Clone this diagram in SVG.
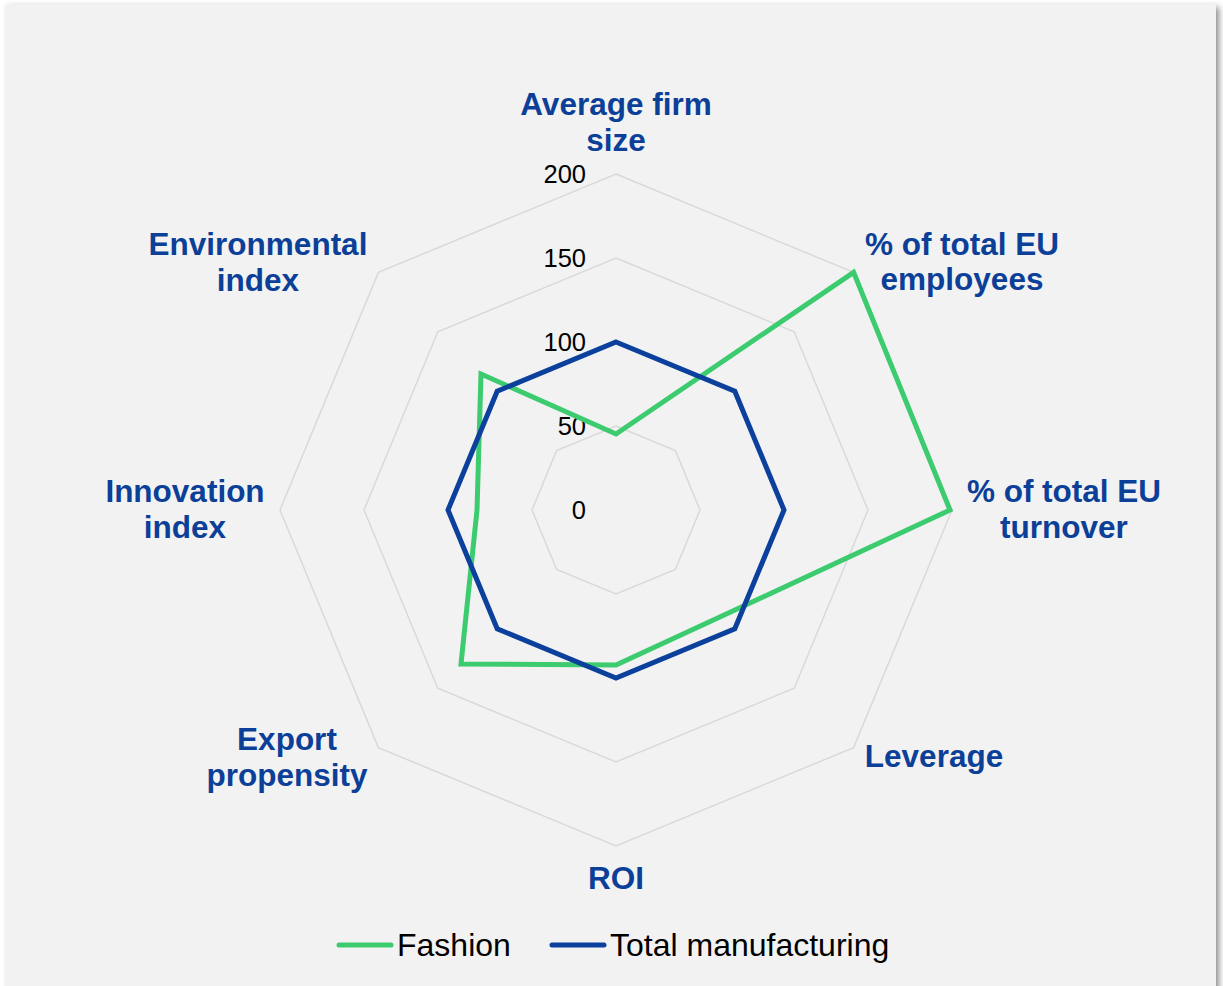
<svg xmlns="http://www.w3.org/2000/svg" width="1223" height="986" viewBox="0 0 1223 986">
  <defs>
    <filter id="shadow" x="-5%" y="-5%" width="110%" height="110%">
      <feGaussianBlur stdDeviation="3"/>
    </filter>
  </defs>
  <style>
    .grid { fill: none; stroke: #d9d9d9; stroke-width: 1.5; }
    .series { fill: none; stroke-width: 5; stroke-linejoin: miter; }
    .fashion { stroke: #3ccb6e; }
    .total { stroke: #0b409c; }
    .tick { font-family: "Liberation Sans", Arial, sans-serif; font-size: 25.5px; fill: #000; text-anchor: end; }
    .axis { font-family: "Liberation Sans", Arial, sans-serif; font-size: 31.5px; font-weight: bold; fill: #0b3f98; text-anchor: middle; }
    .legend { font-family: "Liberation Sans", Arial, sans-serif; font-size: 32px; fill: #000; }
    .legline { stroke-width: 5; stroke-linecap: round; }
  </style>
  <rect x="0" y="0" width="1223" height="986" fill="#ffffff"/>
  <rect x="9" y="7" width="1210" height="990" fill="#8c8c8c" filter="url(#shadow)"/>
  <rect x="5" y="4" width="1211" height="990" fill="#f2f2f2"/>

  <g id="grid">
    <polygon class="grid" points="616,426 675.4,450.6 700,510 675.4,569.4 616,594 556.6,569.4 532,510 556.6,450.6"/>
    <polygon class="grid" points="616,342 734.8,391.2 784,510 734.8,628.8 616,678 497.2,628.8 448,510 497.2,391.2"/>
    <polygon class="grid" points="616,258 794.2,331.8 868,510 794.2,688.2 616,762 437.8,688.2 364,510 437.8,331.8"/>
    <polygon class="grid" points="616,174 853.6,272.4 952,510 853.6,747.6 616,846 378.4,747.6 280,510 378.4,272.4"/>
  </g>

  <g id="ticks">
    <text class="tick" x="586" y="519">0</text>
    <text class="tick" x="586" y="435">50</text>
    <text class="tick" x="586" y="351">100</text>
    <text class="tick" x="586" y="267">150</text>
    <text class="tick" x="586" y="183">200</text>
  </g>

  <g id="connectors">
    <polygon id="series-fashion" class="series fashion" points="616,434 853.6,272.4 950,510 722,616 616,665 461,664 477,510 481,374"/>
    <polygon id="series-total" class="series total" points="616,342 734.8,391.2 784,510 734.8,628.8 616,678 497.2,628.8 448,510 497.2,391.2"/>
  </g>

  <g id="label-avg-firm-size">
    <text class="axis" x="616" y="115">Average firm</text>
    <text class="axis" x="616" y="151">size</text>
  </g>
  <g id="label-employees">
    <text class="axis" x="962" y="255">% of total EU</text>
    <text class="axis" x="962" y="290">employees</text>
  </g>
  <g id="label-turnover">
    <text class="axis" x="1064" y="502">% of total EU</text>
    <text class="axis" x="1064" y="538">turnover</text>
  </g>
  <g id="label-leverage">
    <text class="axis" x="934" y="767">Leverage</text>
  </g>
  <g id="label-roi">
    <text class="axis" x="616" y="889">ROI</text>
  </g>
  <g id="label-export">
    <text class="axis" x="287" y="750">Export</text>
    <text class="axis" x="287" y="786">propensity</text>
  </g>
  <g id="label-innovation">
    <text class="axis" x="185" y="502">Innovation</text>
    <text class="axis" x="185" y="538">index</text>
  </g>
  <g id="label-environmental">
    <text class="axis" x="258" y="255">Environmental</text>
    <text class="axis" x="258" y="291">index</text>
  </g>

  <g id="legend">
    <line class="legline fashion" x1="339" y1="945" x2="391" y2="945"/>
    <text class="legend" x="397" y="956">Fashion</text>
    <line class="legline total" x1="552" y1="945" x2="604" y2="945"/>
    <text class="legend" x="610" y="956">Total manufacturing</text>
  </g>
</svg>
